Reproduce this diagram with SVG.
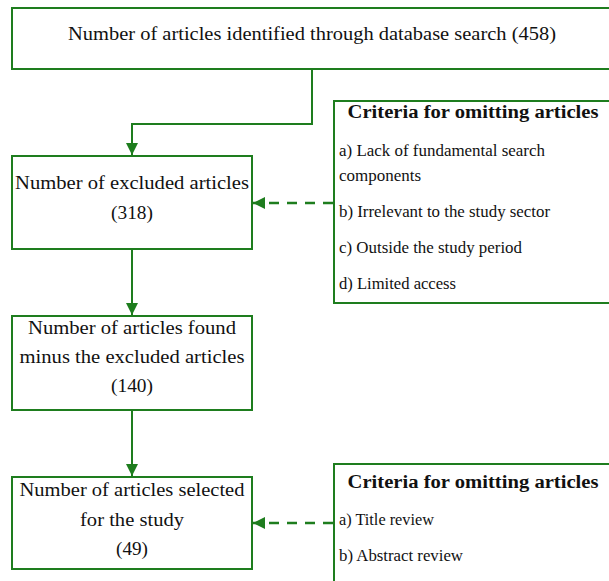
<svg xmlns="http://www.w3.org/2000/svg" width="609" height="581" viewBox="0 0 609 581">
<defs>
<style>
.box{fill:#fff;stroke:#1e7d1e;stroke-width:2}
.t{font-family:"Liberation Serif","Times New Roman",serif;font-size:19.5px;fill:#111;text-anchor:middle}
.h{font-family:"Liberation Serif","Times New Roman",serif;font-size:18.5px;font-weight:bold;fill:#111;text-anchor:middle}
.i{font-family:"Liberation Serif","Times New Roman",serif;font-size:16px;fill:#111}
.c{fill:none;stroke:#1e7d1e;stroke-width:2}
.d{fill:none;stroke:#1e7d1e;stroke-width:2.5;stroke-dasharray:10,8}
</style>
<marker id="ah" viewBox="0 0 10 10" refX="10" refY="5" markerWidth="12" markerHeight="12" markerUnits="userSpaceOnUse" orient="auto">
<path d="M0,0 L10,5 L0,10 z" fill="#1e7d1e"/>
</marker>
</defs>
<g id="connectors">
<path class="c" d="M312,69 V124 H132 V155" marker-end="url(#ah)"/>
<path class="c" d="M132,249 V315" marker-end="url(#ah)"/>
<path class="c" d="M132,410 V476" marker-end="url(#ah)"/>
<path class="d" d="M333,203 H253" marker-end="url(#ah)"/>
<path class="d" d="M333,523 H253" marker-end="url(#ah)"/>
</g>
<g id="n1">
<rect class="box" x="12" y="8" width="600" height="61"/>
<text class="t" x="312" y="39.5" textLength="488" lengthAdjust="spacingAndGlyphs">Number of articles identified through database search (458)</text>
</g>
<g id="n2">
<rect class="box" x="12" y="156" width="240" height="93"/>
<text class="t" x="132" y="189" textLength="234" lengthAdjust="spacingAndGlyphs">Number of excluded articles</text>
<text class="t" x="132" y="219" textLength="42" lengthAdjust="spacingAndGlyphs">(318)</text>
</g>
<g id="n3">
<rect class="box" x="12" y="316" width="240" height="94"/>
<text class="t" x="132" y="334" textLength="208" lengthAdjust="spacingAndGlyphs">Number of articles found</text>
<text class="t" x="132" y="362.5" textLength="225" lengthAdjust="spacingAndGlyphs">minus the excluded articles</text>
<text class="t" x="132" y="392" textLength="42" lengthAdjust="spacingAndGlyphs">(140)</text>
</g>
<g id="n4">
<rect class="box" x="12" y="477" width="240" height="92"/>
<text class="t" x="132" y="495.5" textLength="225" lengthAdjust="spacingAndGlyphs">Number of articles selected</text>
<text class="t" x="132" y="525.5" textLength="104" lengthAdjust="spacingAndGlyphs">for the study</text>
<text class="t" x="132" y="555" textLength="32" lengthAdjust="spacingAndGlyphs">(49)</text>
</g>
<g id="c1">
<rect class="box" x="334" y="101" width="280" height="202"/>
<text class="h" x="473" y="118" textLength="251" lengthAdjust="spacingAndGlyphs">Criteria for omitting articles</text>
<text class="i" x="339" y="155.7" textLength="206" lengthAdjust="spacingAndGlyphs">a) Lack of fundamental search</text>
<text class="i" x="339" y="180.7" textLength="82" lengthAdjust="spacingAndGlyphs">components</text>
<text class="i" x="339" y="216.7" textLength="211" lengthAdjust="spacingAndGlyphs">b) Irrelevant to the study sector</text>
<text class="i" x="339" y="253" textLength="183" lengthAdjust="spacingAndGlyphs">c) Outside the study period</text>
<text class="i" x="339" y="289" textLength="117" lengthAdjust="spacingAndGlyphs">d) Limited access</text>
</g>
<g id="c2">
<rect class="box" x="334" y="464" width="280" height="130"/>
<text class="h" x="473" y="487.5" textLength="251" lengthAdjust="spacingAndGlyphs">Criteria for omitting articles</text>
<text class="i" x="339" y="525" textLength="95" lengthAdjust="spacingAndGlyphs">a) Title review</text>
<text class="i" x="339" y="560.7" textLength="124" lengthAdjust="spacingAndGlyphs">b) Abstract review</text>
</g>
</svg>
